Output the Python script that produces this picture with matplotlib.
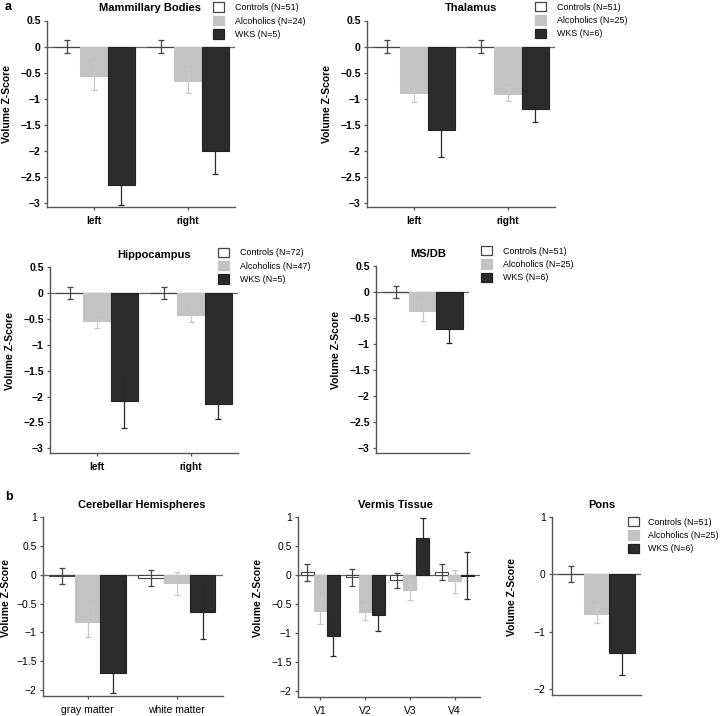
"""Regional volume z-scores: controls vs alcoholics vs WKS (panels a and b)."""
import matplotlib
matplotlib.use("Agg")
import matplotlib.pyplot as plt
from matplotlib.patches import Patch
import numpy as np

plt.rcParams["font.family"] = ["Liberation Sans", "DejaVu Sans"]

# ---- data -----------------------------------------------------------------
side_cats = ["left", "right"]

mb_ctrl, mb_ctrl_err = [0.0, 0.0], [0.12, 0.12]
mb_alc, mb_alc_err = [-0.57, -0.66], [0.26, 0.23]
mb_wks, mb_wks_err = [-2.66, -2.01], [0.39, 0.43]

th_ctrl, th_ctrl_err = [0.0, 0.0], [0.12, 0.12]
th_alc, th_alc_err = [-0.89, -0.91], [0.17, 0.14]
th_wks, th_wks_err = [-1.60, -1.19], [0.52, 0.26]

hc_ctrl, hc_ctrl_err = [0.0, 0.0], [0.12, 0.12]
hc_alc, hc_alc_err = [-0.54, -0.42], [0.13, 0.15]
hc_wks, hc_wks_err = [-2.08, -2.15], [0.53, 0.28]

ms_cats = [""]
ms_ctrl, ms_ctrl_err = [0.0], [0.12]
ms_alc, ms_alc_err = [-0.37], [0.19]
ms_wks, ms_wks_err = [-0.71], [0.27]

cb_cats = ["gray matter", "white matter"]
cb_ctrl, cb_ctrl_err = [-0.02, -0.05], [0.14, 0.14]
cb_alc, cb_alc_err = [-0.81, -0.15], [0.27, 0.20]
cb_wks, cb_wks_err = [-1.71, -0.64], [0.34, 0.47]

vt_cats = ["V1", "V2", "V3", "V4"]
vt_ctrl, vt_ctrl_err = [0.05, -0.04, -0.09, 0.05], [0.145, 0.14, 0.13, 0.135]
vt_alc, vt_alc_err = [-0.62, -0.64, -0.26, -0.11], [0.22, 0.13, 0.17, 0.20]
vt_wks, vt_wks_err = [-1.05, -0.68, 0.63, -0.01], [0.34, 0.28, 0.35, 0.40]

po_cats = [""]
po_ctrl, po_ctrl_err = [0.0], [0.14]
po_alc, po_alc_err = [-0.69], [0.16]
po_wks, po_wks_err = [-1.36], [0.40]

legend_mb = ["Controls (N=51)", "Alcoholics (N=24)", "WKS (N=5)"]
legend_th = ["Controls (N=51)", "Alcoholics (N=25)", "WKS (N=6)"]
legend_hc = ["Controls (N=72)", "Alcoholics (N=47)", "WKS (N=5)"]
legend_ms = ["Controls (N=51)", "Alcoholics (N=25)", "WKS (N=6)"]
legend_po = ["Controls (N=51)", "Alcoholics (N=25)", "WKS (N=6)"]

# ---- style ----------------------------------------------------------------
W_PX, H_PX = 720, 716
_FILL = ["white", "#c3c3c3", "#2b2b2b"]
_EDGE = ["#444444", "#c3c3c3", "#222222"]
_ERR = ["#444444", "#c8c8c8", "#2a2a2a"]
_AXIS = "#555555"
BAR_W = 0.29


def _fmt(v):
    return f"{v:g}".replace("-", "\u2212")


def _rect(left, top, right, bottom):
    """Pixel box -> figure fraction rect."""
    return [left / W_PX, 1 - bottom / H_PX, (right - left) / W_PX,
            (bottom - top) / H_PX]


def _panel(fig, box, title, cats, series, ylim, yticks, xlim,
           strong=True, title_x=0.55, legend=None, legend_px=None,
           label_off=35, legend_pad=1.25):
    ax = fig.add_axes(_rect(*box))
    x = np.arange(len(cats))
    weight = "bold" if strong else "normal"
    for k, (vals, errs) in enumerate(series):
        pos = x + (k - 1) * BAR_W
        ax.bar(pos, vals, width=BAR_W, color=_FILL[k], edgecolor=_EDGE[k],
               linewidth=0.8, zorder=2)
        ax.errorbar(pos, vals, yerr=errs, fmt="none", ecolor=_ERR[k],
                    elinewidth=0.9, capsize=2.2, capthick=0.9, zorder=3)
    ax.axhline(0, color="#666666", linewidth=0.9, zorder=1)

    ax.set_xlim(*xlim)
    ax.set_ylim(*ylim)
    ax.set_yticks(yticks)
    ax.set_yticklabels([_fmt(v) for v in yticks],
                       fontsize=7.5, fontweight=weight)
    if len(cats) > 1:
        ax.set_xticks(x)
        ax.set_xticklabels(cats, fontsize=7.3 if strong else 7.5,
                           fontweight=weight)
    else:
        ax.set_xticks([])
    ax.tick_params(axis="y", length=2.5, width=0.9, color=_AXIS, pad=2)
    ax.tick_params(axis="x", length=2.5, width=0.9, color=_AXIS, pad=4)
    for s in ("top", "right"):
        ax.spines[s].set_visible(False)
    for s in ("left", "bottom"):
        ax.spines[s].set_color(_AXIS)
        ax.spines[s].set_linewidth(1.0)

    ax.set_title(title, fontsize=8, fontweight="bold", x=title_x, pad=6.5)
    ax.set_ylabel("Volume Z-Score", fontsize=7.5, fontweight="bold")
    width_px = box[2] - box[0]
    ax.yaxis.set_label_coords(-label_off / width_px, 0.55)

    if legend is not None:
        handles = [Patch(facecolor=_FILL[k], edgecolor=_EDGE[k], linewidth=0.9)
                   for k in range(3)]
        ax.legend(handles, legend, loc="upper left",
                  bbox_to_anchor=(legend_px[0] / W_PX, 1 - legend_px[1] / H_PX),
                  bbox_transform=fig.transFigure, frameon=False, fontsize=6.4,
                  borderpad=0, borderaxespad=0, handlelength=1.24,
                  handleheight=1.24, handletextpad=legend_pad,
                  labelspacing=0.42)
    return ax


fig = plt.figure(figsize=(W_PX / 100, H_PX / 100), dpi=100)

yt_a = [0.5, 0, -0.5, -1, -1.5, -2, -2.5, -3]
_panel(fig, (47, 20.5, 235, 207), "Mammillary Bodies", side_cats,
       [(mb_ctrl, mb_ctrl_err), (mb_alc, mb_alc_err), (mb_wks, mb_wks_err)],
       (-3.08, 0.5), yt_a, (-0.5, 1.5), title_x=0.548,
       legend=legend_mb, legend_px=(213, 2.5))
_panel(fig, (367, 20.5, 555, 207), "Thalamus", side_cats,
       [(th_ctrl, th_ctrl_err), (th_alc, th_alc_err), (th_wks, th_wks_err)],
       (-3.08, 0.5), yt_a, (-0.5, 1.5), title_x=0.553,
       legend=legend_th, legend_px=(535, 2))
_panel(fig, (50, 267, 238, 453), "Hippocampus", side_cats,
       [(hc_ctrl, hc_ctrl_err), (hc_alc, hc_alc_err), (hc_wks, hc_wks_err)],
       (-3.09, 0.5), yt_a, (-0.5, 1.5), title_x=0.553,
       legend=legend_hc, legend_px=(218, 247.5))
_panel(fig, (376, 266, 469, 453), "MS/DB", ms_cats,
       [(ms_ctrl, ms_ctrl_err), (ms_alc, ms_alc_err), (ms_wks, ms_wks_err)],
       (-3.09, 0.5), yt_a, (-0.5, 0.5), title_x=0.559,
       legend=legend_ms, legend_px=(481, 246))

yt_b = [1, 0.5, 0, -0.5, -1, -1.5, -2]
_panel(fig, (43, 517, 223, 696), "Cerebellar Hemispheres", cb_cats,
       [(cb_ctrl, cb_ctrl_err), (cb_alc, cb_alc_err), (cb_wks, cb_wks_err)],
       (-2.1, 1.0), yt_b, (-0.5, 1.52), strong=False, title_x=0.547,
       label_off=32)
_panel(fig, (298, 517, 480, 697), "Vermis Tissue", vt_cats,
       [(vt_ctrl, vt_ctrl_err), (vt_alc, vt_alc_err), (vt_wks, vt_wks_err)],
       (-2.1, 1.0), yt_b, (-0.5, 3.57), strong=False, title_x=0.533)
_panel(fig, (552, 517, 641, 695), "Pons", po_cats,
       [(po_ctrl, po_ctrl_err), (po_alc, po_alc_err), (po_wks, po_wks_err)],
       (-2.1, 1.0), [1, 0, -1, -2], (-0.5, 0.5), strong=False, title_x=0.562,
       legend=legend_po, legend_px=(628, 517), legend_pad=1.05)

fig.text(5 / W_PX, 1 - 1 / H_PX, "a", fontsize=9, fontweight="bold",
         ha="left", va="top")
fig.text(5 / W_PX, 1 - 491 / H_PX, "b", fontsize=9, fontweight="bold",
         ha="left", va="top")

fig.savefig("out.png", dpi=100)
